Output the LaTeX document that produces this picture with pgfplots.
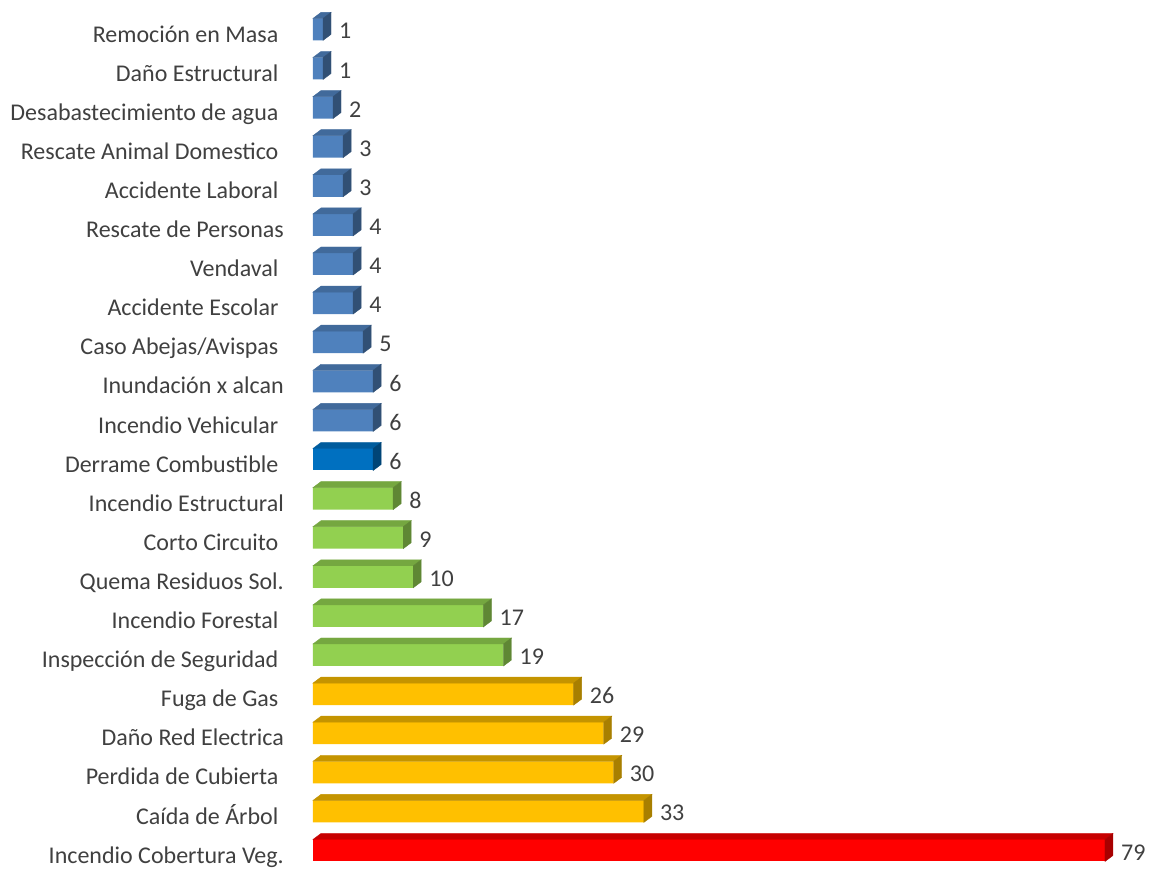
\documentclass[border=0pt]{standalone}
\usepackage{pgfplots}
\usepackage{pgfplotstable}
\pgfplotsset{compat=1.18}
\usepackage{fontspec}
\setmainfont{Carlito}
\definecolor{labgray}{HTML}{404040}
\definecolor{cblue}{HTML}{4F81BD}
\colorlet{cbluetop}{cblue!82!black}
\colorlet{cblueside}{cblue!62!black}
\definecolor{cdblue}{HTML}{0070C0}
\colorlet{cdbluetop}{cdblue!82!black}
\colorlet{cdblueside}{cdblue!62!black}
\definecolor{cgreen}{HTML}{92D050}
\colorlet{cgreentop}{cgreen!80!black}
\colorlet{cgreenside}{cgreen!65!black}
\definecolor{corange}{HTML}{FFC000}
\colorlet{corangetop}{corange!77!black}
\colorlet{corangeside}{corange!66!black}
\definecolor{cred}{HTML}{FF0000}
\colorlet{credtop}{cred!78!black}
\colorlet{credside}{cred!66!black}
\pgfdeclareplotmark{empty3d}{}
\pgfplotsset{
  bar3d/.style 2 args={scatter, only marks, mark=empty3d,
    visualization depends on={\thisrow{v}*10.025 \as \barlen},
    scatter/@pre marker code/.code={%
      \fill[#1] (-\barlen*1pt,11pt) -- (0pt,11pt) -- (8pt,17pt) -- (-\barlen*1pt+8pt,17pt) -- cycle;
      \fill[#2] (0pt,-11pt) -- (0pt,11pt) -- (8pt,17pt) -- (8pt,-5pt) -- cycle;},
    scatter/@post marker code/.code={}},
  frontbar/.style={xbar, bar width=22pt, bar shift=0pt, fill=#1, draw=none,
    point meta=x, nodes near coords,
    every node near coord/.append style={anchor=west, inner sep=0pt, xshift=16pt, yshift=-1.8pt,
      font=\fontsize{24}{28}\selectfont, text=labgray}}
}
\pgfplotstableread{
y v
21 1
20 1
19 2
18 3
17 3
16 4
15 4
14 4
13 5
12 6
11 6
}\tblblue
\pgfplotstableread{
y v
10 6
}\tbldblue
\pgfplotstableread{
y v
9 8
8 9
7 10
6 17
5 19
}\tblgreen
\pgfplotstableread{
y v
4 26
3 29
2 30
1 33
}\tblorange
\pgfplotstableread{
y v
0 79
}\tblred
\begin{document}
\begin{tikzpicture}
\useasboundingbox (-313pt,1.05pt) rectangle (838pt,870.05pt);
\begin{axis}[
  at={(0,0)}, anchor=south west,
  scale only axis, width=802pt, height=860.2pt,
  xmin=0, xmax=80, ymin=-0.5, ymax=21.5,
  clip=false,
  hide x axis,
  axis line style={draw=none},
  major tick length=0pt,
  ytick={0,...,21},
  yticklabels={Incendio Cobertura Veg., Caída de Árbol\kern5.4pt, Perdida de Cubierta\kern5.4pt, Daño Red Electrica, Fuga de Gas\kern5.4pt, Inspección de Seguridad\kern5.4pt, Incendio Forestal\kern5.4pt, Quema Residuos Sol., Corto Circuito\kern5.4pt, Incendio Estructural, Derrame Combustible\kern5.4pt, Incendio Vehicular\kern5.4pt, Inundación x alcan, Caso Abejas/Avispas\kern5.4pt, Accidente Escolar\kern5.4pt, Vendaval\kern5.4pt, Rescate de Personas, Accidente Laboral\kern5.4pt, Rescate Animal Domestico\kern5.4pt, Desabastecimiento de agua\kern5.4pt, Daño Estructural\kern5.4pt, Remoción en Masa\kern5.4pt},
  yticklabel style={anchor=base east, inner sep=0pt, xshift=-29pt, yshift=-12.7pt,
    font=\fontsize{24}{28}\selectfont, text=labgray},
  /pgf/number format/assume math mode=true,
]
\addplot[frontbar=cblue] table[x=v,y=y] {\tblblue};
\addplot[bar3d={cbluetop}{cblueside}] table[x=v,y=y] {\tblblue};
\addplot[frontbar=cdblue] table[x=v,y=y] {\tbldblue};
\addplot[bar3d={cdbluetop}{cdblueside}] table[x=v,y=y] {\tbldblue};
\addplot[frontbar=cgreen] table[x=v,y=y] {\tblgreen};
\addplot[bar3d={cgreentop}{cgreenside}] table[x=v,y=y] {\tblgreen};
\addplot[frontbar=corange] table[x=v,y=y] {\tblorange};
\addplot[bar3d={corangetop}{corangeside}] table[x=v,y=y] {\tblorange};
\addplot[frontbar=cred] table[x=v,y=y] {\tblred};
\addplot[bar3d={credtop}{credside}] table[x=v,y=y] {\tblred};
\end{axis}
\end{tikzpicture}
\end{document}
